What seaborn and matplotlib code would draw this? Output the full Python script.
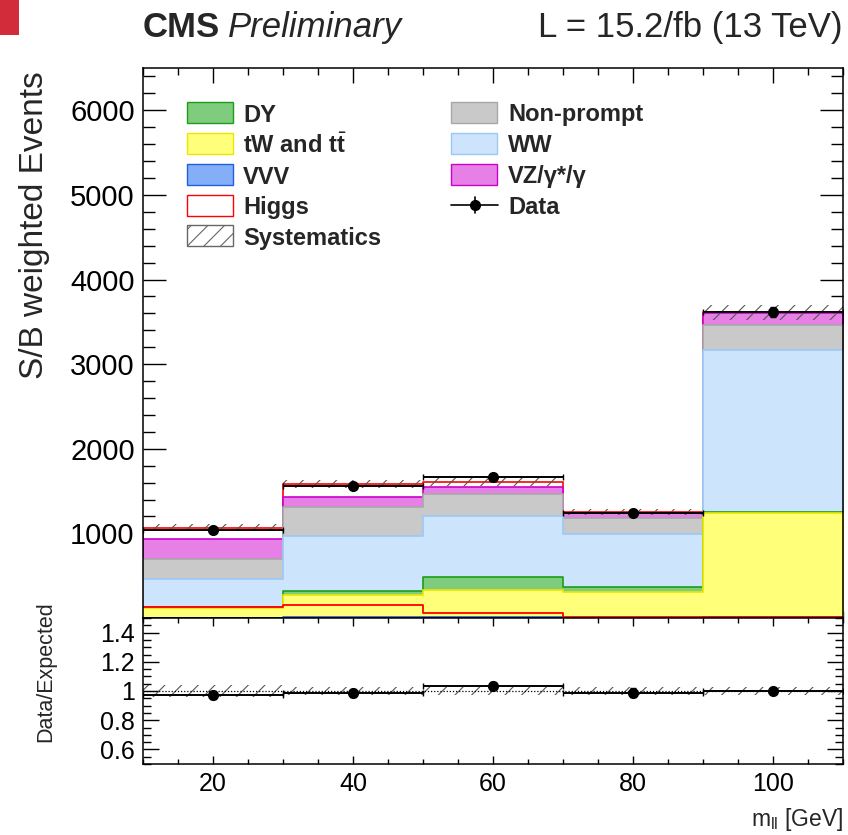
import numpy as np
import matplotlib
matplotlib.use("Agg")
import matplotlib.pyplot as plt
import seaborn as sns
from matplotlib.patches import Rectangle
from matplotlib.lines import Line2D
from matplotlib.ticker import MultipleLocator, FixedLocator, FuncFormatter

# ---------------- data ----------------
bin_edges = [10, 30, 50, 70, 90, 110]
bin_centers = [20, 40, 60, 80, 100]

# stacked processes (bottom -> top)
vvv = [4, 6, 6, 5, 10]
tw_ttbar = [120, 267, 326, 306, 1233]
dy = [8, 47, 158, 52, 15]
ww = [332, 644, 711, 633, 1913]
nonprompt = [237, 347, 268, 189, 288]
vz = [236, 118, 79, 59, 145]
higgs = [128, 150, 59, 6, 8]

data = [1035, 1558, 1665, 1237, 3615]
data_err = [32, 39, 41, 35, 60]
syst_rel = [0.04, 0.03, 0.03, 0.03, 0.025]

legend_left = ["DY", r"tW and t$\bar{\mathbf{t}}$", "VVV", "Higgs", "Systematics"]
legend_right = ["Non-prompt", "WW", "VZ/γ*/γ", "Data"]

main_yticks = [1000, 2000, 3000, 4000, 5000, 6000]
ratio_yticks = [0.6, 0.8, 1.0, 1.2, 1.4]
xticks = [20, 40, 60, 80, 100]

# ---------------- style ----------------
sns.set_style("ticks")
plt.rcParams["font.family"] = ["Liberation Sans", "DejaVu Sans"]
plt.rcParams["mathtext.fontset"] = "custom"
plt.rcParams["mathtext.rm"] = "Liberation Sans"
plt.rcParams["mathtext.bf"] = "Liberation Sans:bold"
plt.rcParams["mathtext.it"] = "Liberation Sans:italic"
plt.rcParams["hatch.linewidth"] = 0.8
plt.rcParams["axes.edgecolor"] = "black"

# colours in stack order (bottom -> top): VVV, tW, DY, WW, Non-prompt, VZ, Higgs
fills = ["#84aef5", "#ffff7a", "#7fcc7f", "#cce4fc", "#c9c9c9", "#e680e6", "#ffffff"]
edges = ["#1f5fe0", "#e8e800", "#1a9e1a", "#9cc8f5", "#a8a8a8", "#cc00cc", "#ff0000"]
hatch_col = "#555555"

W, H = 848, 835
fig = plt.figure(figsize=(W / 100, H / 100), dpi=100)


def fx(x):
    return x / W


def fy(y):
    return 1 - y / H


ax = fig.add_axes([fx(143), fy(618), (843 - 143) / W, (618 - 68) / H])
rax = fig.add_axes([fx(143), fy(764), (843 - 143) / W, (764 - 618) / H])

# ---------------- main stack ----------------
layers = np.array([vvv, tw_ttbar, dy, ww, nonprompt, vz, higgs], dtype=float)
cum = np.cumsum(layers, axis=0)
for k in range(len(layers) - 1, -1, -1):
    sns.histplot(x=bin_centers, weights=cum[k], bins=bin_edges, element="step",
                 fill=True, facecolor=fills[k], edgecolor=edges[k],
                 linewidth=1.2, alpha=1, ax=ax)

# Higgs overlay (unstacked)
sns.histplot(x=bin_centers, weights=higgs, bins=bin_edges, element="step",
             fill=False, color="#ff0000", linewidth=1.3, ax=ax)

total = cum[-1]
syst_abs = total * np.array(syst_rel)
ax.bar(bin_centers, 2 * syst_abs, bottom=total - syst_abs, width=20,
       fill=False, hatch="//", edgecolor=hatch_col, linewidth=0, zorder=5)

ax.errorbar(bin_centers, data, xerr=10, yerr=data_err, fmt="o", color="black",
            ms=7, lw=1.4, capsize=2.5, zorder=6)

ax.set_xlim(10, 110)
ax.set_ylim(0, 6500)
ax.set_xlabel("")
ax.set_ylabel("")
ax.yaxis.set_major_locator(FixedLocator(main_yticks))
ax.yaxis.set_minor_locator(MultipleLocator(200))
ax.xaxis.set_major_locator(FixedLocator(xticks))
ax.xaxis.set_minor_locator(MultipleLocator(5))
ax.tick_params(which="both", direction="in", top=True, right=True, width=1,
               labelsize=21, pad=6, colors="black")
ax.tick_params(axis="x", which="major", length=11, labelbottom=False)
ax.tick_params(axis="x", which="minor", length=5)
ax.tick_params(axis="y", which="major", length=16.5)
ax.tick_params(axis="y", which="minor", length=8.5)
for s in ax.spines.values():
    s.set_linewidth(1.1)
    s.set_zorder(10)

# ---------------- ratio ----------------
total_arr = np.array(total)
ratio = np.array(data) / total_arr
ratio_err = np.array(data_err) / total_arr
sr = np.array(syst_rel)
rax.bar(bin_centers, 2 * sr, bottom=1 - sr, width=20, fill=False, hatch="//",
        edgecolor=hatch_col, linewidth=0, zorder=2)
rax.axhline(1, color="black", lw=0.9, ls=(0, (1, 1.5)), zorder=3)
rax.errorbar(bin_centers, ratio, xerr=10, yerr=ratio_err, fmt="o", color="black",
             ms=7, lw=1.4, capsize=2.5, zorder=6)
rax.set_xlim(10, 110)
rax.set_ylim(0.5, 1.5)
rax.yaxis.set_major_locator(FixedLocator(ratio_yticks))
rax.yaxis.set_minor_locator(MultipleLocator(0.05))
rax.yaxis.set_major_formatter(FuncFormatter(lambda v, p: f"{v:g}"))
rax.xaxis.set_major_locator(FixedLocator(xticks))
rax.xaxis.set_minor_locator(MultipleLocator(5))
rax.tick_params(which="both", direction="in", top=True, right=True, width=1,
                labelsize=18, pad=6, colors="black")
rax.tick_params(axis="x", which="major", length=6)
rax.tick_params(axis="x", which="minor", length=3.5)
rax.tick_params(axis="y", which="major", length=11.5)
rax.tick_params(axis="y", which="minor", length=6)
for s in rax.spines.values():
    s.set_linewidth(1.1)
    s.set_zorder(10)

# ---------------- texts ----------------
fig.patches.append(Rectangle((0, fy(35)), fx(19), 35 / H, transform=fig.transFigure,
                             facecolor="#d22b3a", edgecolor="none"))
fig.text(fx(143), fy(37), "CMS", fontsize=25, fontweight="bold", ha="left", va="baseline")
fig.text(fx(228), fy(37), "Preliminary", fontsize=25, style="italic", ha="left", va="baseline")
fig.text(fx(843), fy(37), "L = 15.2/fb (13 TeV)", fontsize=25, ha="right", va="baseline")
fig.text(fx(35), fy(225), "S/B weighted Events", fontsize=24, rotation=90, ha="center", va="center")
fig.text(fx(46), fy(672), "Data/Expected", fontsize=15.5, rotation=90, ha="center", va="center")
fig.text(fx(843), fy(826), r"m$_{\mathrm{ll}}$ [GeV]", fontsize=16.5, ha="right", va="baseline")

# ---------------- legend ----------------
rows = [112.5, 143.5, 174.5, 205, 235.5]
bw, bh = 46, 21


def legend_box(xl, yc, fc, ec, hatch=None):
    r = Rectangle((fx(xl), fy(yc + bh / 2)), bw / W, bh / H, transform=fig.transFigure,
                  facecolor=fc if hatch is None else "none", edgecolor=ec,
                  linewidth=1.0, hatch=hatch)
    fig.patches.append(r)


left_styles = [(fills[2], edges[2], None), (fills[1], edges[1], None),
               (fills[0], edges[0], None), ("#ffffff", edges[6], None),
               ("none", "#666666", "//")]
for lab, yc, st in zip(legend_left, rows, left_styles):
    legend_box(187, yc, st[0], st[1], st[2])
    fig.text(fx(243), fy(yc), lab, fontsize=17, fontweight="bold", ha="left", va="center_baseline")

right_styles = [(fills[4], edges[4]), (fills[3], edges[3]), (fills[5], edges[5])]
for lab, yc, st in zip(legend_right[:3], rows[:3], right_styles):
    legend_box(451, yc, st[0], st[1])
    fig.text(fx(508), fy(yc), lab, fontsize=17, fontweight="bold", ha="left", va="center_baseline")
yc = rows[3]
fig.add_artist(Line2D([fx(451), fx(498)], [fy(yc), fy(yc)], color="black", lw=1.2,
                      transform=fig.transFigure))
fig.add_artist(Line2D([fx(474.5), fx(474.5)], [fy(yc - 8), fy(yc + 8)], color="black", lw=1.2,
                      transform=fig.transFigure))
fig.add_artist(Line2D([fx(474.5)], [fy(yc)], color="black", marker="o", ms=7,
                      transform=fig.transFigure))
fig.text(fx(508), fy(yc), legend_right[3], fontsize=17, fontweight="bold", ha="left", va="center_baseline")

fig.savefig("out.png", dpi=100)
